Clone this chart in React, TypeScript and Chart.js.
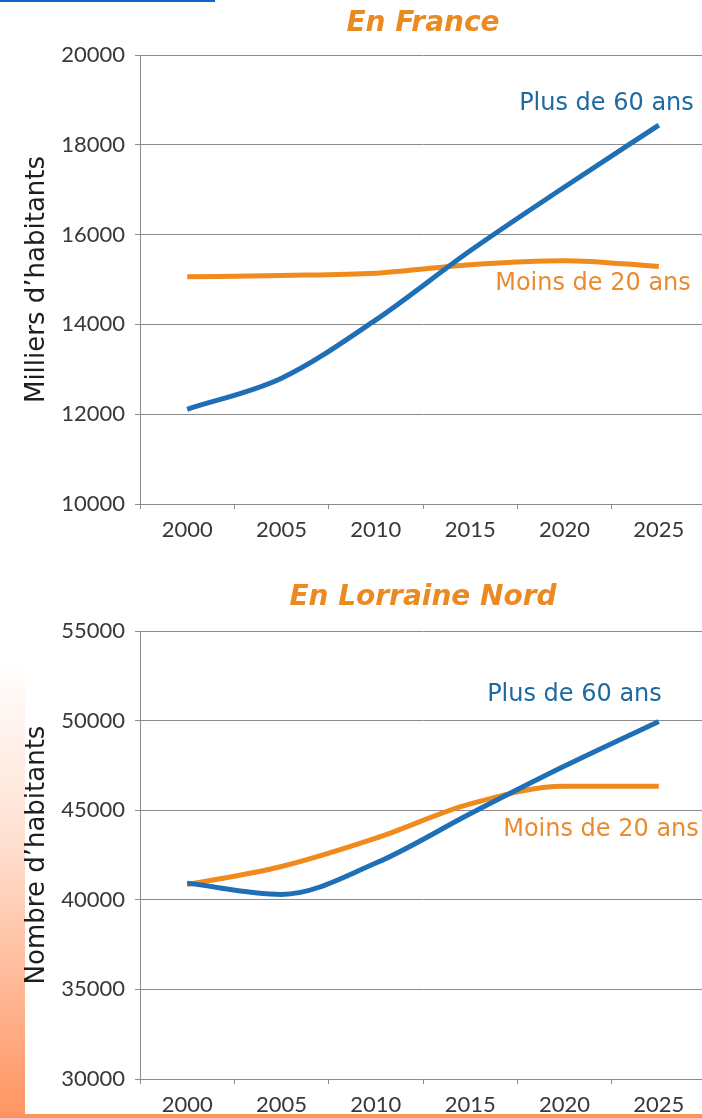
import React, { useEffect, useRef } from "react";
import { Chart, registerables } from "chart.js";

Chart.register(...registerables);

// ---- Data ----
const YEARS = ["2000", "2005", "2010", "2015", "2020", "2025"];
const FRANCE_PLUS_60 = [12110, 12800, 14100, 15640, 17060, 18440];
const FRANCE_MOINS_20 = [15060, 15090, 15140, 15330, 15420, 15290];
const LORRAINE_PLUS_60 = [40930, 40300, 42050, 44800, 47460, 49950];
const LORRAINE_MOINS_20 = [40850, 41860, 43440, 45350, 46330, 46330];
const SERIES_LABELS = ["Plus de 60 ans", "Moins de 20 ans"];
const CHART_TITLES = ["En France", "En Lorraine Nord"];
const Y_TITLES = ["Milliers d’habitants", "Nombre d’habitants"];
const FRANCE_Y_RANGE = [10000, 20000, 2000];
const LORRAINE_Y_RANGE = [30000, 55000, 5000];

// ---- Styles ----
const BLUE = "#1f6fb6";
const ORANGE = "#f08a1c";
const BLUE_TEXT = "#1d6aa2";
const ORANGE_TEXT = "#ea8c2e";
const TITLE_ORANGE = "#ec8a22";
const GRID = "#8c8c8c";
const TICK_TEXT = "#383838";

const endLabelPlugin = {
  id: "endLabels",
  afterDatasetsDraw(chart: any) {
    const ctx = chart.ctx;
    chart.data.datasets.forEach((ds: any, i: number) => {
      const meta = chart.getDatasetMeta(i);
      const pt = meta.data[meta.data.length - 1];
      if (!pt || !ds.endLabel) return;
      ctx.save();
      ctx.font = "24px 'DejaVu Sans'";
      ctx.fillStyle = ds.endLabel.color;
      ctx.textAlign = "right";
      ctx.textBaseline = "middle";
      ctx.fillText(ds.label, pt.x + ds.endLabel.dx, pt.y + ds.endLabel.dy);
      ctx.restore();
    });
  },
};

type Props = {
  title: string;
  yTitle: string;
  plus: number[];
  moins: number[];
  yRange: number[];
  width: number;
  height: number;
  yWidth: number;
  xHeight: number;
  titlePad: { top: number; bottom: number };
  plusOffset: { dx: number; dy: number };
  moinsOffset: { dx: number; dy: number };
};

function PopChart(p: Props) {
  const ref = useRef<HTMLCanvasElement | null>(null);
  useEffect(() => {
    if (!ref.current) return;
    const chart = new Chart(ref.current, {
      type: "line",
      data: {
        labels: YEARS,
        datasets: [
          {
            label: SERIES_LABELS[0],
            data: p.plus,
            borderColor: BLUE,
            borderWidth: 5,
            pointRadius: 0,
            cubicInterpolationMode: "monotone",
            endLabel: { color: BLUE_TEXT, ...p.plusOffset },
          } as any,
          {
            label: SERIES_LABELS[1],
            data: p.moins,
            borderColor: ORANGE,
            borderWidth: 5,
            pointRadius: 0,
            cubicInterpolationMode: "monotone",
            endLabel: { color: ORANGE_TEXT, ...p.moinsOffset },
          } as any,
        ],
      },
      options: {
        animation: false,
        responsive: false,
        layout: { padding: { left: 0, right: 4, top: 0, bottom: 0 } },
        plugins: {
          legend: { display: false },
          tooltip: { enabled: false },
          title: {
            display: true,
            text: p.title,
            fullSize: false,
            color: TITLE_ORANGE,
            font: { family: "'DejaVu Sans'", size: 28, weight: "bold", style: "italic" },
            padding: p.titlePad,
          },
        },
        scales: {
          x: {
            offset: true,
            grid: {
              offset: true,
              drawOnChartArea: false,
              drawTicks: true,
              tickLength: 5,
              color: GRID,
            },
            border: { color: GRID },
            ticks: {
              color: TICK_TEXT,
              font: { family: "Lato", size: 22 },
              padding: 8,
              maxRotation: 0,
            },
            afterFit: (s: any) => {
              s.height = p.xHeight;
            },
          },
          y: {
            min: p.yRange[0],
            max: p.yRange[1],
            ticks: {
              stepSize: p.yRange[2],
              color: TICK_TEXT,
              font: { family: "Lato", size: 22 },
              padding: 10,
              callback: (v: any) => String(v),
            },
            grid: { color: GRID, tickLength: 5, lineWidth: 1 },
            border: { color: GRID },
            title: {
              display: true,
              text: p.yTitle,
              color: "#1e1e1e",
              font: { family: "'DejaVu Sans'", size: 26 },
              padding: { top: 22, bottom: 0 },
            },
            afterFit: (s: any) => {
              s.width = p.yWidth;
            },
          },
        },
      },
      plugins: [endLabelPlugin],
    } as any);
    return () => chart.destroy();
  }, []);
  return (
    <canvas
      ref={ref}
      width={p.width}
      height={p.height}
      style={{ display: "block", width: p.width, height: p.height }}
    />
  );
}

export default function App() {
  return (
    <div
      style={{
        position: "absolute",
        left: 0,
        top: 0,
        width: 702,
        height: 1118,
        overflow: "hidden",
        background: "#ffffff",
      }}
    >
      <div
        style={{
          position: "absolute",
          left: 0,
          top: 660,
          width: 25,
          height: 458,
          background: "linear-gradient(to bottom, rgba(255,145,95,0) 0%, rgba(255,150,100,0.3) 40%, #ff9460 100%)",
        }}
      />
      <div style={{ position: "absolute", left: 0, top: 0 }}>
        <PopChart
          title={CHART_TITLES[0]}
          yTitle={Y_TITLES[0]}
          plus={FRANCE_PLUS_60}
          moins={FRANCE_MOINS_20}
          yRange={FRANCE_Y_RANGE}
          width={710}
          height={560}
          yWidth={140}
          xHeight={56}
          titlePad={{ top: 7, bottom: 14.4 }}
          plusOffset={{ dx: 35, dy: -21 }}
          moinsOffset={{ dx: 32, dy: 17 }}
        />
      </div>
      <div style={{ position: "absolute", left: 0, top: 565 }}>
        <PopChart
          title={CHART_TITLES[1]}
          yTitle={Y_TITLES[1]}
          plus={LORRAINE_PLUS_60}
          moins={LORRAINE_MOINS_20}
          yRange={LORRAINE_Y_RANGE}
          width={710}
          height={553}
          yWidth={140}
          xHeight={39}
          titlePad={{ top: 16, bottom: 16.4 }}
          plusOffset={{ dx: 3, dy: -27 }}
          moinsOffset={{ dx: 40, dy: 43 }}
        />
      </div>
      <div
        style={{
          position: "absolute",
          left: 0,
          top: 0,
          width: 215,
          height: 2,
          background: "#0b68c9",
        }}
      />
      <div
        style={{
          position: "absolute",
          left: 0,
          top: 1114,
          width: 702,
          height: 4,
          background: "#f7955c",
        }}
      />
    </div>
  );
}
